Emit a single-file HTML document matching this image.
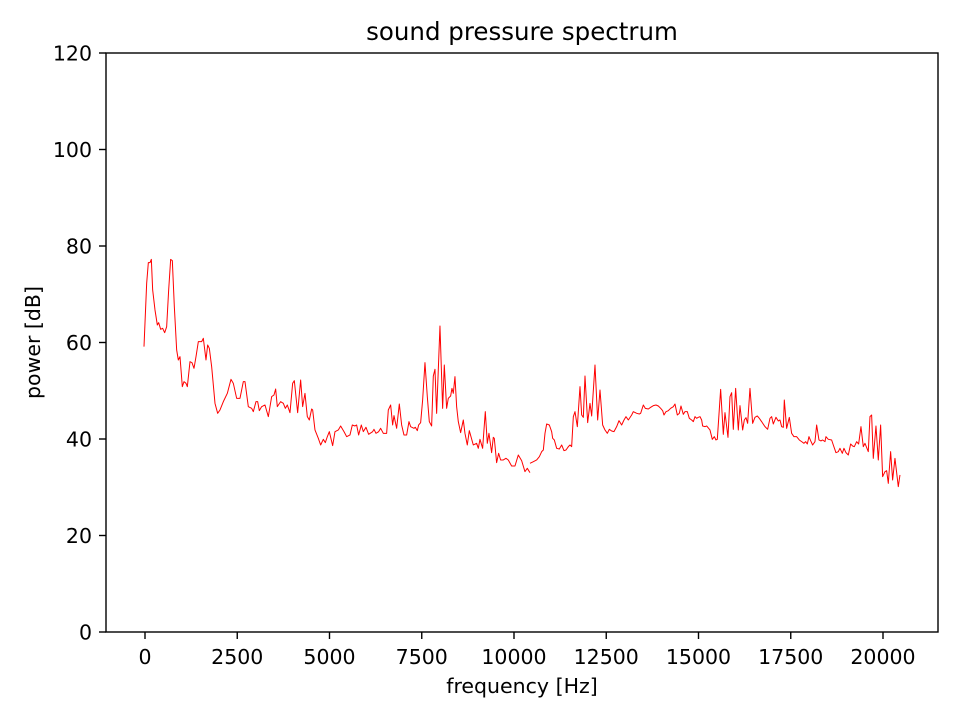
<!DOCTYPE html>
<html><head><meta charset="utf-8"><style>
html,body{margin:0;padding:0;background:#fff;}
svg{display:block;}
text{font-family:"DejaVu Sans","Liberation Sans",sans-serif;fill:#000;}
</style></head><body>
<svg width="960" height="720" viewBox="0 0 960 720" xmlns="http://www.w3.org/2000/svg">
<rect width="960" height="720" fill="#fff"/>
<g fill="none" stroke="#ff0000" stroke-width="1" stroke-linejoin="round">
<polyline vector-effect="non-scaling-stroke" transform="translate(130,240) scale(0.3333)" points="42,320 50,130 55,68 60,68 64,58 68,150 75,210 82,255 86,248 92,268 98,265 104,278 110,260 116,150 122,58 127,62 133,200 140,330 145,360 150,350 157,440 162,425 168,430 172,440 180,365 186,368 192,385 198,350 205,305 215,305 220,295 228,360 233,315 238,325 245,380 255,490 263,520 270,510 280,485 292,460 303,418 310,430 320,475 330,475 340,425 345,425 355,500 365,505 370,515 378,485 383,485 388,512 395,500 405,495 415,530 425,470 432,465 437,447 442,500 452,485 460,490 466,505 472,495 480,518 488,430 493,422 503,518 512,420 518,500 525,460 532,530 538,540 545,507 548,510 555,570 565,595 572,615 580,598 586,608 592,590 598,575 608,617 615,575 625,570 632,558 642,575 650,590 660,585 667,555 675,558 680,555 686,585 694,555 700,575 708,562 716,583 728,575 732,568 738,580 746,575 752,565 760,580 770,580 775,510 782,495 788,555 792,527 800,565 808,492 815,555 822,585 830,585 837,545 842,560 852,565 856,562 862,572 866,555 872,548 878,480 885,368 892,470 898,545 905,558 910,408 915,388 920,520 930,258 938,505 943,375 950,505 955,475 962,468 966,445 970,460 975,410 980,500 985,545 992,578 1000,540 1005,580 1012,615 1018,572 1030,615 1040,610 1045,625 1050,598 1058,625 1066,515 1072,610 1077,580 1085,638 1090,592 1093,595 1100,668 1106,640 1112,660 1120,660 1128,655 1135,660 1145,678 1155,678 1165,645 1175,662 1185,695 1192,685 1200,698"/>
<polyline vector-effect="non-scaling-stroke" transform="translate(520,320) scale(0.3333)" points="30,430 40,425 50,420 58,410 65,395 70,390 75,340 80,312 88,315 95,335 98,355 103,360 110,385 118,387 125,375 132,392 138,390 145,380 150,375 155,380 160,290 165,275 172,320 180,200 185,285 190,292 195,168 203,308 210,250 215,288 225,135 233,300 240,210 248,315 255,330 262,340 268,328 275,333 282,335 290,320 297,302 305,315 312,300 318,290 325,300 335,285 340,275 350,280 358,282 362,280 370,255 376,265 385,267 392,262 400,257 408,255 415,258 422,265 428,272 432,285 438,275 445,272 452,265 460,260 465,252 472,285 478,280 483,258 490,283 495,275 502,275 508,295 515,300 520,305 525,290 530,295 535,292 540,290 545,300 548,318 555,320 560,318 570,330 577,358 583,350 588,360 592,358 602,208 610,343 615,278 624,352 630,230 635,218 640,328 647,205 655,330 660,257 668,330 673,300 678,293 683,310 690,205 698,310 705,292 712,288 718,295 725,305 735,320 743,328 750,295 755,290 760,312 768,292 775,303 780,300 785,320 790,322 793,240 800,325 808,292 815,340 822,350 830,350 838,360 845,365 852,370 857,365 862,372 867,350 872,362 878,375 885,365 890,315 897,360 903,363 908,360 915,365 918,350 925,358 935,360 940,375 948,398 955,395 960,385 967,400 972,385 978,398 985,405 992,372 998,378 1003,380 1010,365 1016,372 1023,320 1030,380 1035,370 1045,395 1050,290 1055,285 1060,415 1068,318 1075,420 1082,315 1088,470 1095,455 1100,452 1105,490 1112,395 1118,480 1125,415 1135,500 1140,465"/>
</g>
<rect x="106" y="53" width="832" height="579" fill="none" stroke="#000" stroke-width="1.4"/>
<g stroke="#000" stroke-width="1.4">
<line x1="145" y1="632" x2="145" y2="639"/><line x1="237.25" y1="632" x2="237.25" y2="639"/><line x1="329.5" y1="632" x2="329.5" y2="639"/><line x1="421.75" y1="632" x2="421.75" y2="639"/><line x1="514" y1="632" x2="514" y2="639"/><line x1="606.25" y1="632" x2="606.25" y2="639"/><line x1="698.5" y1="632" x2="698.5" y2="639"/><line x1="790.75" y1="632" x2="790.75" y2="639"/><line x1="883" y1="632" x2="883" y2="639"/>
<line x1="99" y1="632" x2="106" y2="632"/><line x1="99" y1="535.5" x2="106" y2="535.5"/><line x1="99" y1="439" x2="106" y2="439"/><line x1="99" y1="342.5" x2="106" y2="342.5"/><line x1="99" y1="246" x2="106" y2="246"/><line x1="99" y1="149.5" x2="106" y2="149.5"/><line x1="99" y1="53" x2="106" y2="53"/>
</g>
<g font-size="20.5" text-anchor="middle">
<text x="145" y="664">0</text><text x="237.25" y="664">2500</text><text x="329.5" y="664">5000</text><text x="421.75" y="664">7500</text><text x="514" y="664">10000</text><text x="606.25" y="664">12500</text><text x="698.5" y="664">15000</text><text x="790.75" y="664">17500</text><text x="883" y="664">20000</text>
</g>
<g font-size="20.5" text-anchor="end">
<text x="92" y="639.5">0</text><text x="92" y="543">20</text><text x="92" y="446.5">40</text><text x="92" y="350">60</text><text x="92" y="253.5">80</text><text x="92" y="157">100</text><text x="92" y="60.5">120</text>
</g>
<text x="522" y="693" font-size="20.5" text-anchor="middle">frequency [Hz]</text>
<text transform="translate(40,342.5) rotate(-90)" font-size="20.5" text-anchor="middle">power [dB]</text>
<text x="522" y="40" font-size="24.5" text-anchor="middle">sound pressure spectrum</text>
</svg>
</body></html>
